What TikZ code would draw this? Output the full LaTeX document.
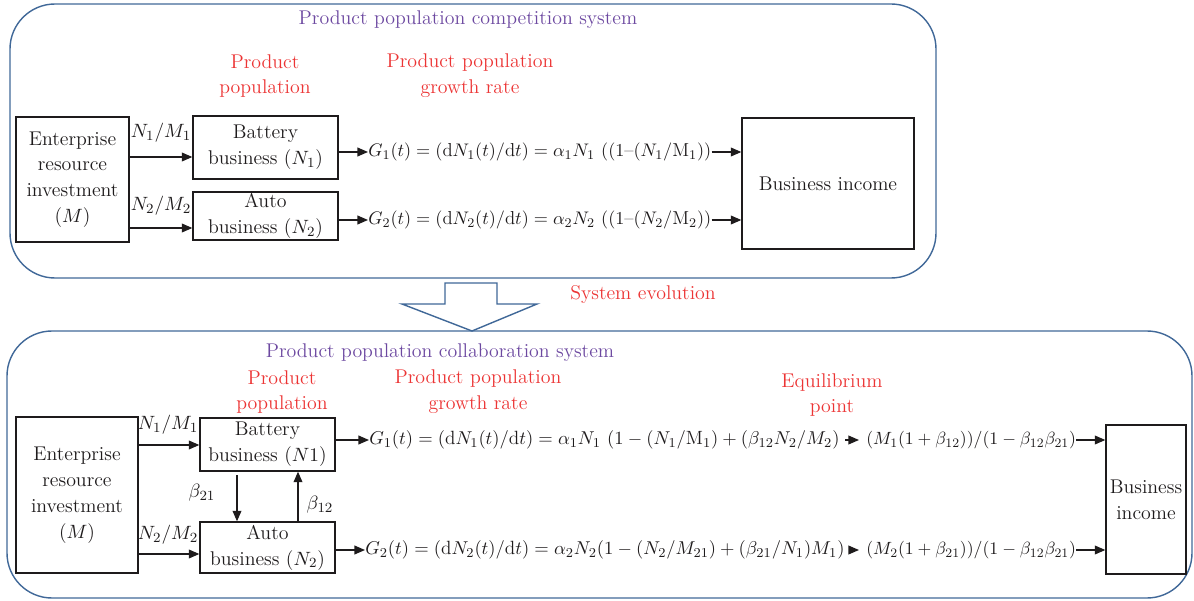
\documentclass[tikz,border=0pt]{standalone}
\usepackage{fontspec}
\usetikzlibrary{arrows.meta}
\definecolor{frameblue}{RGB}{64,104,152}
\definecolor{titlepurple}{RGB}{108,72,160}
\definecolor{labelred}{RGB}{236,52,52}
\definecolor{ink}{RGB}{30,27,28}
\begin{document}
\begin{tikzpicture}[x=0.02cm,y=-0.02cm,
 every node/.style={font=\fontsize{11.3}{14.7}\selectfont, text=ink},
 box/.style={draw=ink, line width=0.75pt, align=center, inner sep=0pt},
 frame/.style={draw=frameblue, line width=0.8pt, rounded corners=0.9cm},
 title/.style={text=titlepurple},
 lab/.style={text=labelred, align=center},
 arr/.style={draw=ink, line width=0.7pt, -{Triangle[length=6pt,width=5pt]}},
 smallarr/.style={arr, shorten <=3pt, shorten >=4pt},
 eq/.style={inner sep=0pt}
]
\useasboundingbox (0,0) rectangle (1194,601);

% containers
\draw[frame] (10,4) rectangle (936,278);
\draw[frame] (7,331) rectangle (1192,598);

% ---------- top system ----------
\node[title] (tt1) at (468,20) {Product population competition system};
\node[lab] (lp1) at (265,76) {Product\\population};
\node[lab] (lg1) at (470,76) {Product population\\growth rate};

\node[box, minimum width=2.26cm, minimum height=2.5cm] (ent1) at (72.5,179.5) {Enterprise\\resource\\investment\\($M$)};
\node[box, minimum width=2.9cm, minimum height=1.26cm] (bat1) at (265.5,147.5) {Battery\\business ($N_1$)};
\node[box, minimum width=2.9cm, minimum height=0.96cm] (auto1) at (265.5,216) {Auto\\business ($N_2$)};
\node[box, minimum width=3.44cm, minimum height=2.62cm] (biz1) at (828,183.5) {Business income};

\coordinate (t1) at (0,157);
\coordinate (t2) at (0,228);
\draw[arr] (ent1.east |- t1) -- (bat1.west |- t1);
\draw[arr] (ent1.east |- t2) -- (auto1.west |- t2);
\node (l11) at (161,133) {$N_1/M_1$};
\node (l12) at (161,206) {$N_2/M_2$};

\node[eq, anchor=west, scale=0.945] (f1) at (368,152) {$G_1(t) = (\mathrm{d}N_1(t)/\mathrm{d}t) = \alpha_1N_1\ ((1\mbox{--}(N_1/\mathrm{M}_1))$};
\node[eq, anchor=west, scale=0.945] (f2) at (368,220) {$G_2(t) = (\mathrm{d}N_2(t)/\mathrm{d}t) = \alpha_2N_2\ ((1\mbox{--}(N_2/\mathrm{M}_2))$};
\draw[arr] (bat1.east |- f1.west) -- (f1.west);
\draw[arr] (auto1.east |- f2.west) -- (f2.west);
\draw[arr] (f1.east) -- (biz1.west |- f1.east);
\draw[arr] (f2.east) -- (biz1.west |- f2.east);

% ---------- evolution arrow ----------
\draw[frameblue, line width=0.8pt, fill=white] (445,283) -- (497,283) -- (497,304) -- (537,304) -- (472,331) -- (402,304) -- (445,304) -- cycle;
\node[lab] (sev) at (643,295) {System evolution};

% ---------- bottom system ----------
\node[title] (tt2) at (440,353) {Product population collaboration system};
\node[lab] (lp2) at (282,392) {Product\\population};
\node[lab] (lg2) at (478,392) {Product population\\growth rate};
\node[lab] (leq) at (832,395) {Equilibrium\\point};

\node[box, minimum width=2.44cm, minimum height=3.12cm] (ent2) at (77,495) {Enterprise\\resource\\investment\\($M$)};
\node[box, minimum width=2.7cm, minimum height=1.06cm] (bat2) at (267.5,444.5) {Battery\\business ($N1$)};
\node[box, minimum width=2.7cm, minimum height=1.02cm] (auto2) at (267.5,547.5) {Auto\\business ($N_2$)};
\node[box, minimum width=1.6cm, minimum height=2.98cm] (biz2) at (1146,499.5) {Business\\income};

\coordinate (b1) at (0,445);
\coordinate (b2) at (0,554);
\draw[arr] (ent2.east |- b1) -- (bat2.west |- b1);
\draw[arr] (ent2.east |- b2) -- (auto2.west |- b2);
\node (l21) at (168,425) {$N_1/M_1$};
\node (l22) at (168,535) {$N_2/M_2$};

\coordinate (xd) at (237,0);
\coordinate (xu) at (298,0);
\draw[arr, shorten <=2pt] (bat2.south -| xd) -- (auto2.north -| xd);
\draw[arr] (auto2.north -| xu) -- (bat2.south -| xu);
\node (lb21) at (202,493) {$\beta_{21}$};
\node (lb12) at (320,505) {$\beta_{12}$};

\node[eq, anchor=west, scale=0.965] (g1) at (369,440) {$G_1(t) = (\mathrm{d}N_1(t)/\mathrm{d}t) = \alpha_1N_1\ (1-(N_1/\mathrm{M}_1)+(\beta_{12}N_2/M_2)$};
\node[eq, anchor=west, scale=0.92] (e1) at (866,440) {$(M_1(1+\beta_{12}))/(1-\beta_{12}\beta_{21})$};
\node[eq, anchor=west, scale=0.965] (g2) at (365,550) {$G_2(t) = (\mathrm{d}N_2(t)/\mathrm{d}t) = \alpha_2N_2(1-(N_2/M_{21})+(\beta_{21}/N_1)M_1)$};
\node[eq, anchor=west, scale=0.92] (e2) at (866,550) {$(M_2(1+\beta_{21}))/(1-\beta_{12}\beta_{21})$};
\draw[arr] (bat2.east |- g1.west) -- (g1.west);
\draw[arr] (auto2.east |- g2.west) -- (g2.west);
\draw[smallarr] (g1.east) -- (e1.west);
\draw[smallarr] (g2.east) -- (e2.west);
\draw[arr] (e1.east) -- (biz2.west |- e1.east);
\draw[arr] (e2.east) -- (biz2.west |- e2.east);
\end{tikzpicture}
\end{document}
